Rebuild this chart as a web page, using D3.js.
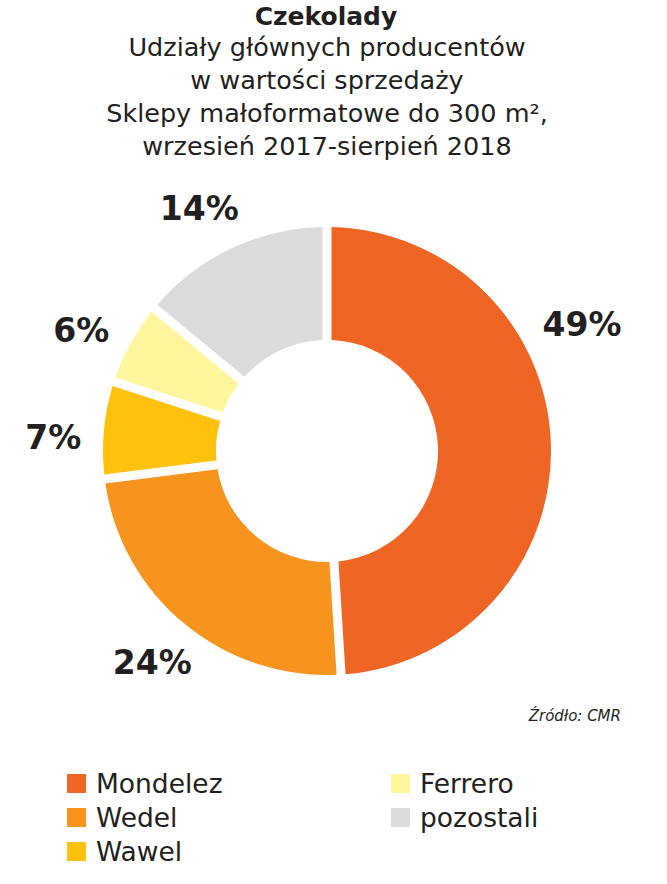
<!DOCTYPE html>
<html><head><meta charset="utf-8">
<script src="https://cdn.jsdelivr.net/npm/d3@7"></script>
<style>
body{margin:0;background:#fff;}
svg{display:block;}
</style></head>
<body>
<svg id="chart" width="667" height="884"></svg>
<script>
const categories = ["Mondelez", "Wedel", "Wawel", "Ferrero", "pozostali"];
const shares = [49, 24, 7, 6, 14];
const colors = ["#EF6624", "#F7941E", "#FEC20E", "#FFF59C", "#DCDCDE"];
const titleText = "Czekolady";
const subtitleLines = ["Udziały głównych producentów", "w wartości sprzedaży", "Sklepy małoformatowe do 300 m²,", "wrzesień 2017-sierpień 2018"];
const sourceText = "Źródło: CMR";

const svg = d3.select("#chart");
const textColor = "#231F20";
const cx = 327, cy = 451, rOuter = 224, rInner = 111;
const bodyFont = "'DejaVu Sans', sans-serif";

svg.append("text").attr("x", 326).attr("y", 25).attr("text-anchor", "middle")
  .attr("font-family", bodyFont).attr("font-weight", 700).attr("font-size", 25)
  .attr("fill", textColor).text(titleText);

svg.selectAll("text.sub").data(subtitleLines).join("text").attr("class", "sub")
  .attr("x", 327).attr("y", (d, i) => 56 + i * 33).attr("text-anchor", "middle")
  .attr("font-family", bodyFont).attr("font-size", 25.5)
  .attr("fill", textColor).text(d => d);

const pie = d3.pie().value(d => d).sort(null);
const arcs = pie(shares);
const arc = d3.arc().innerRadius(rInner).outerRadius(rOuter).padAngle(9 / 111).padRadius(111);

const g = svg.append("g").attr("transform", `translate(${cx},${cy})`);
g.selectAll("path").data(arcs).join("path")
  .attr("d", arc).attr("fill", (d, i) => colors[i]);

g.selectAll("text.lbl").data(arcs).join("text").attr("class", "lbl")
  .attr("transform", d => {
    const span = d.endAngle - d.startAngle;
    const mid = d.startAngle + span / 2;
    let a = mid, r = 274;
    if (span > Math.PI * 0.8) { a = d.startAngle + span * 0.36; r = 285; }
    else if (mid > Math.PI * 1.4) { a = mid - 0.045; }
    return `translate(${r * Math.sin(a)},${-r * Math.cos(a)})`;
  })
  .attr("text-anchor", "middle").attr("dy", "0.36em")
  .attr("font-family", bodyFont).attr("font-weight", 700).attr("font-size", 33)
  .attr("fill", textColor).text(d => d.data + "%");

svg.append("text").attr("x", 621).attr("y", 721).attr("text-anchor", "end")
  .attr("font-family", bodyFont).attr("font-style", "italic").attr("font-size", 15)
  .attr("fill", textColor).text(sourceText);

const legend = svg.append("g");
const items = categories.map((c, i) => ({c, i, col: i < 3 ? 0 : 1, row: i < 3 ? i : i - 3}));
const li = legend.selectAll("g").data(items).join("g")
  .attr("transform", d => `translate(${d.col ? 391 : 67},${774 + d.row * 34})`);
li.append("rect").attr("width", 19).attr("height", 19).attr("fill", d => colors[d.i]);
li.append("text").attr("x", 29).attr("y", 19)
  .attr("font-family", bodyFont).attr("font-size", 26.5)
  .attr("fill", textColor).text(d => d.c);
</script>
</body></html>
